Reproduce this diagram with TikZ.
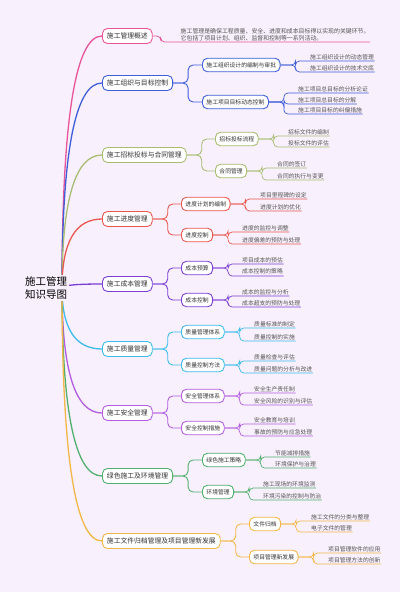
\documentclass[tikz,border=0pt]{standalone}
\usepackage{fontspec}
\setmainfont{Noto Sans CJK SC}
\usetikzlibrary{calc,backgrounds}
\definecolor{bg}{HTML}{F8F0FC}
\definecolor{ink}{HTML}{333333}
\definecolor{dim}{HTML}{555555}
\definecolor{cpink}{HTML}{E8559B}
\definecolor{cblue}{HTML}{3F5FD8}
\definecolor{colive}{HTML}{A8BD72}
\definecolor{cred}{HTML}{E8584E}
\definecolor{cpurple}{HTML}{7B3FD4}
\definecolor{ccyan}{HTML}{3DBCEB}
\definecolor{cviolet}{HTML}{B35EE0}
\definecolor{cgreen}{HTML}{52B06E}
\definecolor{corange}{HTML}{F2B847}

\begin{document}
\begin{tikzpicture}[
  x=1pt, y=-1pt,
  root/.style={fill=bg, inner sep=2pt, align=center, text=black,
    font=\fontsize{10.5}{12.5}\selectfont},
  topic/.style={rectangle, rounded corners=5pt, draw=#1, line width=0.9pt,
    fill=white, anchor=west, text=ink, inner xsep=4.5pt, minimum height=15pt,
    font=\fontsize{6.8}{8}\selectfont},
  sub/.style={rectangle, rounded corners=5pt, draw=#1, line width=0.9pt,
    fill=white, anchor=west, text=ink, inner xsep=4pt, minimum height=13.5pt,
    font=\fontsize{5.8}{7}\selectfont},
  leaf/.style={anchor=south west, inner xsep=0.5pt, inner ysep=1.3pt,
    text=dim, font=\fontsize{5.8}{7}\selectfont},
  trunk/.style={draw=#1, line width=1.3pt},
  twig/.style={draw=#1, line width=0.9pt, rounded corners=5pt},
  vein/.style={draw=#1, line width=0.7pt, rounded corners=4pt},
]
\coordinate (o) at (62,288);
\node[root] (root) at (46,288) {施工管理\\知识导图};

% first level
\node[topic=cpink]   (b1) at (102,36)  {施工管理概述};
\node[topic=cblue]   (b2) at (102,83)  {施工组织与目标控制};
\node[topic=colive]  (b3) at (102,155) {施工招标投标与合同管理};
\node[topic=cred]    (b4) at (102,219) {施工进度管理};
\node[topic=cpurple] (b5) at (102,284) {施工成本管理};
\node[topic=ccyan]   (b6) at (102,349) {施工质量管理};
\node[topic=cviolet] (b7) at (102,413) {施工安全管理};
\node[topic=cgreen]  (b8) at (102,476) {绿色施工及环境管理};
\node[topic=corange] (b9) at (102,541) {施工文件归档管理及项目管理新发展};

% page and trunks from the centre, behind the nodes
\begin{scope}[on background layer]
\fill[bg] (0,0) rectangle (400,592);
\draw[trunk=cpink]   (o) .. controls ($(o)!2/3!(o |- b1.west)$) and ($(b1.west)!2/3!(o |- b1.west)$) .. (b1.west);
\draw[trunk=cblue]   (o) .. controls ($(o)!2/3!(o |- b2.west)$) and ($(b2.west)!2/3!(o |- b2.west)$) .. (b2.west);
\draw[trunk=colive]  (o) .. controls ($(o)!2/3!(o |- b3.west)$) and ($(b3.west)!2/3!(o |- b3.west)$) .. (b3.west);
\draw[trunk=cred]    (o) .. controls ($(o)!2/3!(o |- b4.west)$) and ($(b4.west)!2/3!(o |- b4.west)$) .. (b4.west);
\draw[trunk=cpurple] (o) .. controls ($(o)!2/3!(o |- b5.west)$) and ($(b5.west)!2/3!(o |- b5.west)$) .. (b5.west);
\draw[trunk=ccyan]   (o) .. controls ($(o)!2/3!(o |- b6.west)$) and ($(b6.west)!2/3!(o |- b6.west)$) .. (b6.west);
\draw[trunk=cviolet] (o) .. controls ($(o)!2/3!(o |- b7.west)$) and ($(b7.west)!2/3!(o |- b7.west)$) .. (b7.west);
\draw[trunk=cgreen]  (o) .. controls ($(o)!2/3!(o |- b8.west)$) and ($(b8.west)!2/3!(o |- b8.west)$) .. (b8.west);
\draw[trunk=corange] (o) .. controls ($(o)!2/3!(o |- b9.west)$) and ($(b9.west)!2/3!(o |- b9.west)$) .. (b9.west);
\end{scope}

% overview
\node[leaf, align=left, font=\fontsize{5.9}{6.6}\selectfont] (d1) at (180,42)
  {施工管理是确保工程质量、安全、进度和成本目标得以实现的关键环节。\\它包括了项目计划、组织、监督和控制等一系列活动。};
\draw[vein=cpink] (b1.east) -- ++(8,0) |- (d1.south west) -- ++(190,0);

% organisation and targets
\node[sub=cblue] (n21) at (202,65)  {施工组织设计的编制与审批};
\node[sub=cblue] (n22) at (202,102) {施工项目目标动态控制};
\draw[twig=cblue] (b2.east) -- ++(15,0) |- (n21.west);
\draw[twig=cblue] (b2.east) -- ++(15,0) |- (n22.west);
\node[leaf] (l211) at (309.5,61)  {施工组织设计的动态管理};
\node[leaf] (l212) at (309.5,72)  {施工组织设计的技术交底};
\node[leaf] (l221) at (297.5,93)  {施工项目总目标的分析论证};
\node[leaf] (l222) at (297.5,104) {施工项目总目标的分解};
\node[leaf] (l223) at (297.5,114) {施工项目目标的纠偏措施};
\draw[vein=cblue] (n21.east) -- ++(15,0) |- (l211.south west) -- (l211.south east);
\draw[vein=cblue] (n21.east) -- ++(15,0) |- (l212.south west) -- (l212.south east);
\draw[vein=cblue] (n22.east) -- ++(15,0) |- (l221.south west) -- (l221.south east);
\draw[vein=cblue] (n22.east) -- ++(15,0) |- (l222.south west) -- (l222.south east);
\draw[vein=cblue] (n22.east) -- ++(15,0) |- (l223.south west) -- (l223.south east);

% tendering and contracts
\node[sub=colive] (n31) at (215,139) {招标投标流程};
\node[sub=colive] (n32) at (215,171) {合同管理};
\draw[twig=colive] (b3.east) -- ++(15,0) |- (n31.west);
\draw[twig=colive] (b3.east) -- ++(15,0) |- (n32.west);
\node[leaf] (l311) at (287.5,136) {招标文件的编制};
\node[leaf] (l312) at (287.5,147) {投标文件的评估};
\node[leaf] (l321) at (276.5,168) {合同的签订};
\node[leaf] (l322) at (276.5,180) {合同的执行与变更};
\draw[vein=colive] (n31.east) -- ++(15,0) |- (l311.south west) -- (l311.south east);
\draw[vein=colive] (n31.east) -- ++(15,0) |- (l312.south west) -- (l312.south east);
\draw[vein=colive] (n32.east) -- ++(15,0) |- (l321.south west) -- (l321.south east);
\draw[vein=colive] (n32.east) -- ++(15,0) |- (l322.south west) -- (l322.south east);

% schedule
\node[sub=cred] (n41) at (181,204) {进度计划的编制};
\node[sub=cred] (n42) at (181,235) {进度控制};
\draw[twig=cred] (b4.east) -- ++(15,0) |- (n41.west);
\draw[twig=cred] (b4.east) -- ++(15,0) |- (n42.west);
\node[leaf] (l411) at (259.5,199) {项目里程碑的设定};
\node[leaf] (l412) at (259.5,211) {进度计划的优化};
\node[leaf] (l421) at (241.5,232) {进度的监控与调整};
\node[leaf] (l422) at (241.5,244) {进度偏差的预防与处理};
\draw[vein=cred] (n41.east) -- ++(15,0) |- (l411.south west) -- (l411.south east);
\draw[vein=cred] (n41.east) -- ++(15,0) |- (l412.south west) -- (l412.south east);
\draw[vein=cred] (n42.east) -- ++(15,0) |- (l421.south west) -- (l421.south east);
\draw[vein=cred] (n42.east) -- ++(15,0) |- (l422.south west) -- (l422.south east);

% cost
\node[sub=cpurple] (n51) at (181,268) {成本预算};
\node[sub=cpurple] (n52) at (181,300) {成本控制};
\draw[twig=cpurple] (b5.east) -- ++(15,0) |- (n51.west);
\draw[twig=cpurple] (b5.east) -- ++(15,0) |- (n52.west);
\node[leaf] (l511) at (241.5,264) {项目成本的预估};
\node[leaf] (l512) at (241.5,276) {成本控制的策略};
\node[leaf] (l521) at (241.5,296) {成本的监控与分析};
\node[leaf] (l522) at (241.5,307) {成本超支的预防与处理};
\draw[vein=cpurple] (n51.east) -- ++(15,0) |- (l511.south west) -- (l511.south east);
\draw[vein=cpurple] (n51.east) -- ++(15,0) |- (l512.south west) -- (l512.south east);
\draw[vein=cpurple] (n52.east) -- ++(15,0) |- (l521.south west) -- (l521.south east);
\draw[vein=cpurple] (n52.east) -- ++(15,0) |- (l522.south west) -- (l522.south east);

% quality
\node[sub=ccyan] (n61) at (181,332) {质量管理体系};
\node[sub=ccyan] (n62) at (181,365) {质量控制方法};
\draw[twig=ccyan] (b6.east) -- ++(15,0) |- (n61.west);
\draw[twig=ccyan] (b6.east) -- ++(15,0) |- (n62.west);
\node[leaf] (l611) at (253.5,328) {质量标准的制定};
\node[leaf] (l612) at (253.5,341) {质量控制的实施};
\node[leaf] (l621) at (253.5,361) {质量检查与评估};
\node[leaf] (l622) at (253.5,373) {质量问题的分析与改进};
\draw[vein=ccyan] (n61.east) -- ++(15,0) |- (l611.south west) -- (l611.south east);
\draw[vein=ccyan] (n61.east) -- ++(15,0) |- (l612.south west) -- (l612.south east);
\draw[vein=ccyan] (n62.east) -- ++(15,0) |- (l621.south west) -- (l621.south east);
\draw[vein=ccyan] (n62.east) -- ++(15,0) |- (l622.south west) -- (l622.south east);

% safety
\node[sub=cviolet] (n71) at (181,396) {安全管理体系};
\node[sub=cviolet] (n72) at (181,428) {安全控制措施};
\draw[twig=cviolet] (b7.east) -- ++(15,0) |- (n71.west);
\draw[twig=cviolet] (b7.east) -- ++(15,0) |- (n72.west);
\node[leaf] (l711) at (253.5,393) {安全生产责任制};
\node[leaf] (l712) at (253.5,405) {安全风险的识别与评估};
\node[leaf] (l721) at (253.5,424) {安全教育与培训};
\node[leaf] (l722) at (253.5,436) {事故的预防与应急处理};
\draw[vein=cviolet] (n71.east) -- ++(15,0) |- (l711.south west) -- (l711.south east);
\draw[vein=cviolet] (n71.east) -- ++(15,0) |- (l712.south west) -- (l712.south east);
\draw[vein=cviolet] (n72.east) -- ++(15,0) |- (l721.south west) -- (l721.south east);
\draw[vein=cviolet] (n72.east) -- ++(15,0) |- (l722.south west) -- (l722.south east);

% green construction
\node[sub=cgreen] (n81) at (202,460) {绿色施工策略};
\node[sub=cgreen] (n82) at (202,492) {环境管理};
\draw[twig=cgreen] (b8.east) -- ++(15,0) |- (n81.west);
\draw[twig=cgreen] (b8.east) -- ++(15,0) |- (n82.west);
\node[leaf] (l811) at (274.5,457) {节能减排措施};
\node[leaf] (l812) at (274.5,468) {环境保护与治理};
\node[leaf] (l821) at (262.5,488) {施工现场的环境监测};
\node[leaf] (l822) at (262.5,500) {环境污染的控制与防治};
\draw[vein=cgreen] (n81.east) -- ++(15,0) |- (l811.south west) -- (l811.south east);
\draw[vein=cgreen] (n81.east) -- ++(15,0) |- (l812.south west) -- (l812.south east);
\draw[vein=cgreen] (n82.east) -- ++(15,0) |- (l821.south west) -- (l821.south east);
\draw[vein=cgreen] (n82.east) -- ++(15,0) |- (l822.south west) -- (l822.south east);

% documents and new trends
\node[sub=corange] (n91) at (249,524) {文件归档};
\node[sub=corange] (n92) at (249,557) {项目管理新发展};
\draw[twig=corange] (b9.east) -- ++(15,0) |- (n91.west);
\draw[twig=corange] (b9.east) -- ++(15,0) |- (n92.west);
\node[leaf] (l911) at (310.5,521) {施工文件的分类与整理};
\node[leaf] (l912) at (310.5,532) {电子文件的管理};
\node[leaf] (l921) at (327.5,553) {项目管理软件的应用};
\node[leaf] (l922) at (327.5,564) {项目管理方法的创新};
\draw[vein=corange] (n91.east) -- ++(15,0) |- (l911.south west) -- (l911.south east);
\draw[vein=corange] (n91.east) -- ++(15,0) |- (l912.south west) -- (l912.south east);
\draw[vein=corange] (n92.east) -- ++(15,0) |- (l921.south west) -- (l921.south east);
\draw[vein=corange] (n92.east) -- ++(15,0) |- (l922.south west) -- (l922.south east);
\end{tikzpicture}
\end{document}
